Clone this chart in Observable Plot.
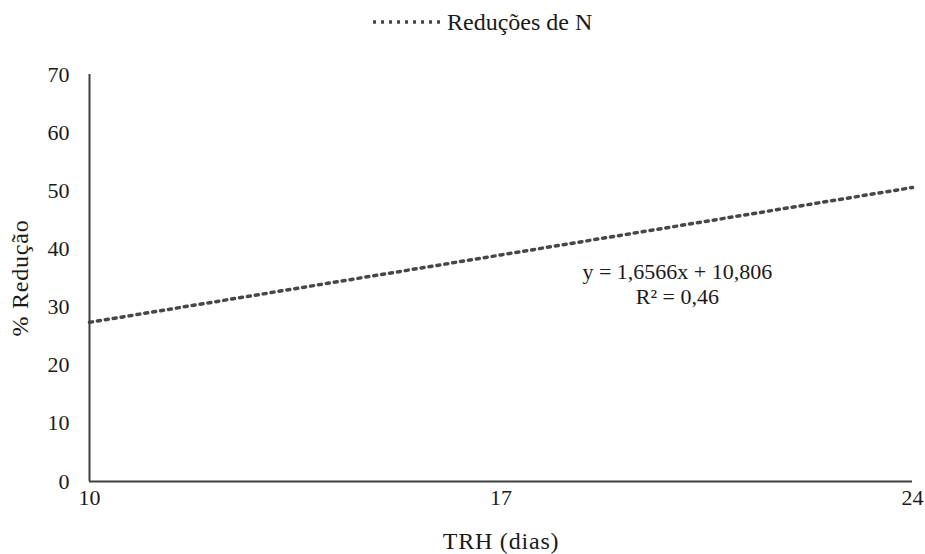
<!DOCTYPE html>
<html>
<head>
<meta charset="utf-8">
<script src="https://cdn.jsdelivr.net/npm/d3@7"></script>
<script src="https://cdn.jsdelivr.net/npm/@observablehq/plot@0.6"></script>
<style>
  body { margin: 0; background: #fff; font-family: "Liberation Serif", "Times New Roman", serif; }
  #wrap { position: relative; width: 925px; }
  #legend { position: relative; height: 45px; }
  #legend svg { position: absolute; left: 372px; top: 18px; }
  #legend span { position: absolute; left: 447px; top: 8px; font-size: 24px; color: #1a1a1a; line-height: 28px; }
  .axis-title { letter-spacing: 0.8px; }
</style>
</head>
<body>
<div id="wrap">
  <div id="legend"></div>
  <div id="chart"></div>
</div>
<script>
// Linear trend of nitrogen reduction versus hydraulic retention time (TRH)
const seriesName = "Reduções de N";
const trhDays = [10, 17, 24];
const yTicks = [0, 10, 20, 30, 40, 50, 60, 70];
const slope = 1.6566;
const intercept = 10.806;
const r2 = 0.46;
const xTitle = "TRH (dias)";
const yTitle = "% Redução";

const fmt = (v) => String(v).replace(".", ",");
const trend = trhDays.map((x) => ({ x, y: slope * x + intercept }));
const eqLabel = [{ x: 20, y: 34.1, text: `y = ${fmt(slope)}x + ${fmt(intercept)}\nR² = ${fmt(r2)}` }];

const ink = "#1a1a1a";
const axisInk = "#404040";
const dots = "3,5";

// legend
const legend = document.getElementById("legend");
legend.innerHTML = `<svg width="70" height="8"><line x1="1" y1="4" x2="70" y2="4" stroke="#474747" stroke-width="3.5" stroke-dasharray="${dots}"/></svg><span>${seriesName}</span>`;

const chart = Plot.plot({
  width: 925,
  height: 509,
  marginLeft: 89,
  marginRight: 13,
  marginTop: 29,
  marginBottom: 73,
  style: { fontFamily: "'Liberation Serif', 'Times New Roman', serif", fontSize: "22px", color: ink, background: "#fff" },
  x: { domain: [10, 24], ticks: trhDays },
  y: { domain: [0, 70], ticks: yTicks },
  marks: [
    Plot.axisY({ ticks: yTicks, tickSize: 0, tickPadding: 20, label: null, fontSize: 22 }),
    Plot.axisX({ ticks: trhDays, tickSize: 0, tickPadding: 8, label: null, fontSize: 22 }),
    Plot.text([xTitle], { frameAnchor: "bottom", dy: 60, textAnchor: "middle", lineAnchor: "middle", fontSize: 24, fill: ink }),
    Plot.text([yTitle], { frameAnchor: "left", dx: -69, rotate: -90, textAnchor: "middle", lineAnchor: "middle", fontSize: 24, fill: ink }),
    Plot.line(trend, { x: "x", y: "y", stroke: "#474747", strokeWidth: 3.5, strokeDasharray: dots }),
    Plot.ruleY([0], { stroke: axisInk, strokeWidth: 2 }),
    Plot.ruleX([10], { stroke: axisInk, strokeWidth: 2 }),
    Plot.text(eqLabel, { x: "x", y: "y", text: "text", fontSize: 22, lineHeight: 1.14, fill: ink, textAnchor: "middle", lineAnchor: "middle" })
  ]
});
// slightly wider tracking on the two axis titles
d3.select(chart).selectAll("text").filter(function () {
  const t = this.textContent;
  return t === xTitle || t === yTitle;
}).classed("axis-title", true);
document.getElementById("chart").appendChild(chart);
</script>
</body>
</html>
